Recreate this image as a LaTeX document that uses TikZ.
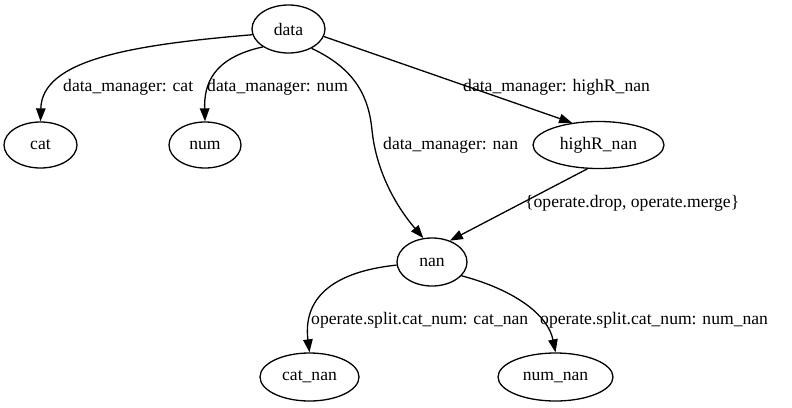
\documentclass[tikz,border=0pt]{standalone}
\usepackage{fontspec}
\setmainfont{Liberation Serif}
\usetikzlibrary{arrows.meta,shapes.geometric}
\begin{document}
\begin{tikzpicture}[x=1pt,y=-1pt,
  every node/.style={font=\fontsize{17.6}{19}\selectfont},
  nd/.style={draw, ellipse, line width=1.3pt, inner sep=0pt},
  edge/.style={line width=1.3pt, -{Triangle[length=13pt,width=9.5pt]}},
  lbl/.style={anchor=west, inner sep=0pt}]
\useasboundingbox (0,0) rectangle (792,407);
\node[nd, minimum width=73pt, minimum height=48pt] (data) at (288.5,29) {data};
\node[nd, minimum width=73pt, minimum height=46pt] (cat) at (40.5,145) {cat};
\node[nd, minimum width=72pt, minimum height=46pt] (num) at (205,145) {num};
\node[nd, minimum width=131pt, minimum height=47pt] (high) at (598.5,145) {highR\_nan};
\node[nd, minimum width=70pt, minimum height=48pt] (nan) at (432,262) {nan};
\node[nd, minimum width=99pt, minimum height=48pt] (catnan) at (309.5,377) {cat\_nan};
\node[nd, minimum width=115pt, minimum height=48pt] (numnan) at (555.5,377) {num\_nan};

\draw[edge] (data.189) .. controls (130,45) and (42,60) .. (cat.north);
\draw[edge] (data.215) .. controls (212,58) and (204,85) .. (num.north);
\draw[edge] (data.320) .. controls (358,70) and (369,100) .. (372,130) .. controls (376,170) and (395,205) .. (nan.110);
\draw[edge] (data.348) -- (high.140);
\draw[edge] (high.245) -- (nan.50);
\draw[edge] (nan.185) .. controls (330,272) and (303,300) .. (catnan.north);
\draw[edge] (nan.-25) .. controls (515,290) and (548,315) .. (numnan.north);

\node[lbl] (l1) at (63,87) {data\_manager: cat};
\node[lbl] (l2) at (207,87) {data\_manager: num};
\node[lbl] (l3) at (463,87) {data\_manager: highR\_nan};
\node[lbl] (l4) at (383,145) {data\_manager: nan};
\node[lbl] (l5) at (525,203) {\{operate.drop, operate.merge\}};
\node[lbl] (l6) at (311,320) {operate.split.cat\_num: cat\_nan};
\node[lbl] (l7) at (540,320) {operate.split.cat\_num: num\_nan};
\end{tikzpicture}
\end{document}
